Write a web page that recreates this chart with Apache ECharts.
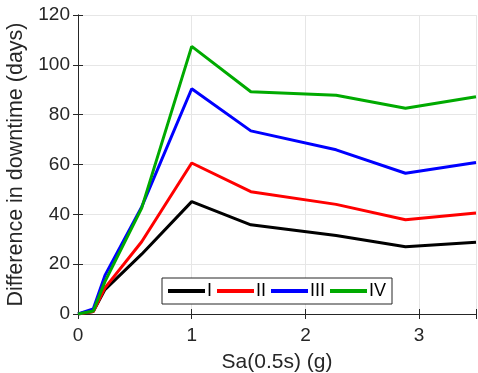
<!DOCTYPE html>
<html>
<head>
<meta charset="utf-8">
<script src="https://cdn.jsdelivr.net/npm/echarts@6/dist/echarts.min.js"></script>
<style>
  html, body { margin: 0; padding: 0; background: #fff; }
  #chart { width: 478px; height: 373px; }
</style>
</head>
<body>
<div id="chart"></div>
<script>
const sa = [0, 0.134, 0.237, 0.56, 1.0, 1.52, 2.27, 2.88, 3.5]
const seriesNames = ['I', 'II', 'III', 'IV']
const valsI = [0, 1, 9.8, 24, 45.1, 35.8, 31.5, 27, 28.8]
const valsII = [0, 1, 10.5, 29, 60.6, 49.1, 44, 37.8, 40.5]
const valsIII = [0, 2, 15.5, 43, 90.4, 73.5, 65.9, 56.5, 60.8]
const valsIV = [0, 1.2, 13, 42.5, 107.4, 89.2, 87.8, 82.6, 87.2]
const colors = ['#000000', '#ff0000', '#0000ff', '#00aa00']
const xTicks = [0, 1, 2, 3]

const chart = echarts.init(document.getElementById('chart'))
const font = 'Liberation Sans, Arial, sans-serif'
const axisCol = '#262626'

const allVals = [valsI, valsII, valsIII, valsIV]
const series = seriesNames.map((name, i) => ({
  name,
  type: 'line',
  data: sa.map((x, j) => [x, allVals[i][j]]),
  symbol: 'none',
  lineStyle: { width: 3, color: colors[i] },
  itemStyle: { color: colors[i] },
  z: 2 + i,
}))

const boxAxis = {
  min: 0,
  axisLine: { show: true, lineStyle: { color: axisCol, width: 1 } },
  axisTick: { show: true, inside: true, length: 5, lineStyle: { color: axisCol } },
  axisLabel: { show: false },
  splitLine: { show: false },
}

chart.setOption({
  animation: false,
  grid: { left: 78, right: 2, top: 15, bottom: 59, containLabel: false, outerBoundsMode: 'none' },
  legend: {
    data: seriesNames,
    left: 162,
    top: 278,
    orient: 'horizontal',
    icon: 'rect',
    itemWidth: 37,
    itemHeight: 4,
    itemGap: 5,
    padding: [4, 6, 4, 6],
    borderColor: axisCol,
    borderWidth: 1,
    backgroundColor: '#fff',
    textStyle: { fontFamily: font, fontSize: 18, color: '#000', padding: [0, 0, 0, -3] },
  },
  xAxis: [
    {
      type: 'value',
      min: 0,
      max: 3.5,
      interval: 1,
      name: 'Sa(0.5s) (g)',
      nameLocation: 'middle',
      nameGap: 38,
      nameTextStyle: { fontFamily: font, fontSize: 21, color: '#262626' },
      axisLine: { show: true, onZero: false, lineStyle: { color: axisCol, width: 1 } },
      axisTick: { show: true, inside: true, length: 5, lineStyle: { color: axisCol } },
      axisLabel: {
        fontFamily: font, fontSize: 19, color: '#262626', margin: 12,
        formatter: v => (xTicks.includes(v) ? String(v) : ''),
      },
      splitLine: { show: true, lineStyle: { color: '#e6e6e6', width: 1 } },
    },
    Object.assign({}, boxAxis, { type: 'value', position: 'top', max: 3.5, interval: 1 }),
  ],
  yAxis: [
    {
      type: 'value',
      min: 0,
      max: 120,
      interval: 20,
      name: 'Difference in downtime (days)',
      nameLocation: 'middle',
      nameGap: 45,
      nameTextStyle: { fontFamily: font, fontSize: 21.5, color: '#262626' },
      axisLine: { show: true, lineStyle: { color: axisCol, width: 1 } },
      axisTick: { show: true, inside: true, length: 5, lineStyle: { color: axisCol } },
      axisLabel: { fontFamily: font, fontSize: 19, color: '#262626', margin: 8 },
      splitLine: { show: true, lineStyle: { color: '#e6e6e6', width: 1 } },
    },
    Object.assign({}, boxAxis, { type: 'value', position: 'right', max: 120, interval: 20 }),
  ],
  series,
})
</script>
</body>
</html>
